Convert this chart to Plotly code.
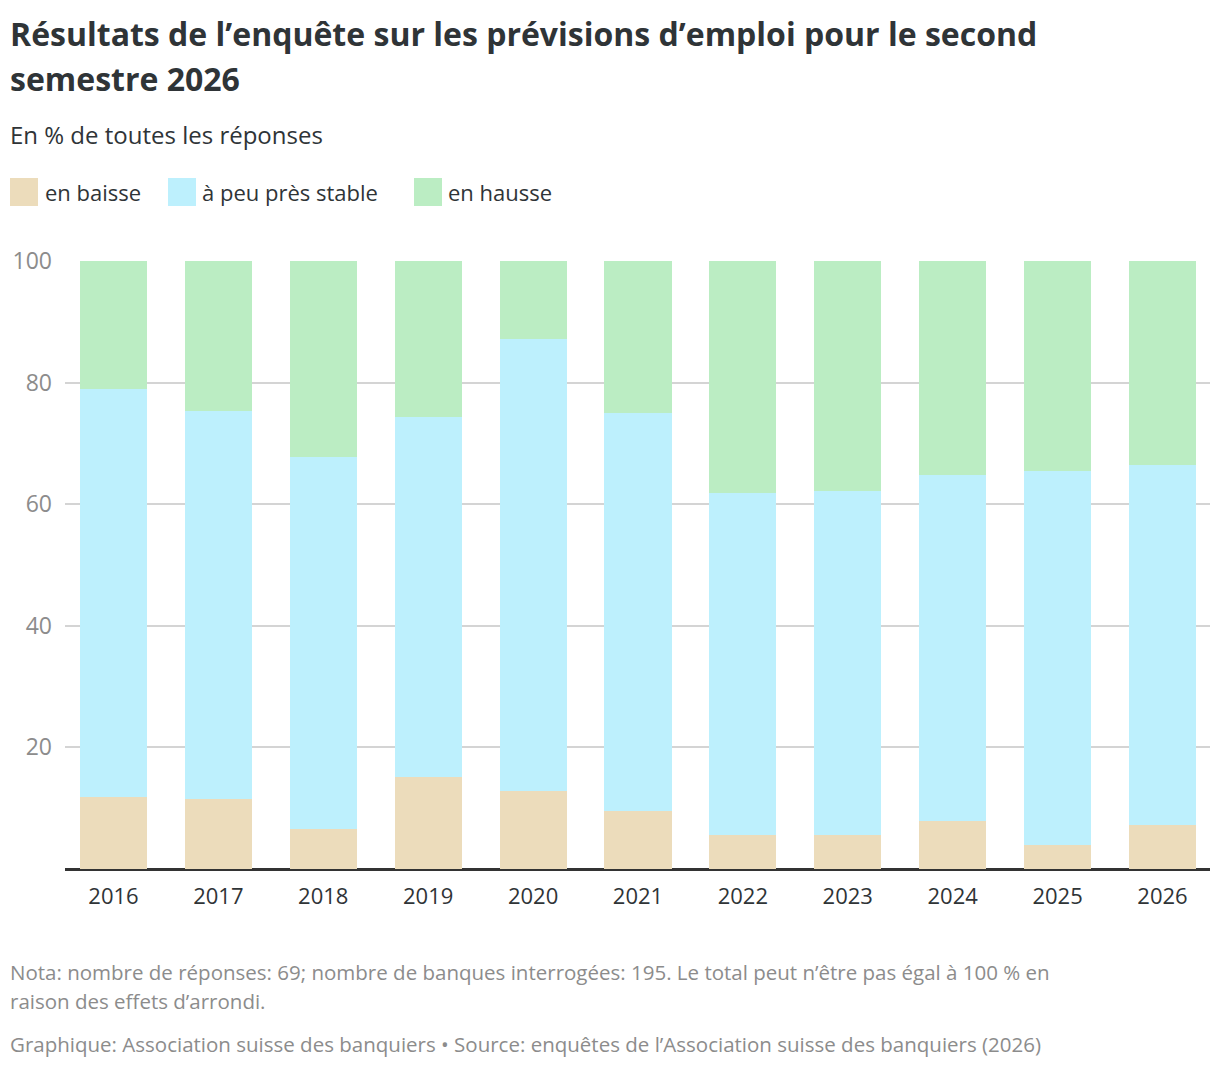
import plotly.graph_objects as go

# Valeurs (en % de toutes les réponses)
annees = ["2016", "2017", "2018", "2019", "2020", "2021", "2022", "2023", "2024", "2025", "2026"]
en_baisse = [11.8, 11.5, 6.6, 15.1, 12.8, 9.5, 5.6, 5.6, 7.9, 3.9, 7.2]
stable = [67.1, 63.8, 61.2, 59.2, 74.4, 65.5, 56.2, 56.6, 56.9, 61.6, 59.2]
en_hausse = [21.1, 24.7, 32.2, 25.7, 12.8, 25.0, 38.2, 37.8, 35.2, 34.5, 33.6]

series = [
    ("en baisse", en_baisse, "#ecdcbb"),
    ("à peu près stable", stable, "#bdf0fd"),
    ("en hausse", en_hausse, "#bbedc3"),
]

FONT = "Open Sans"
DARK = "#2f3437"
GREY = "#8c8c8c"

# la page a une marge de 8 px : on travaille en pixels d'écran puis on convertit
L, R, T, B = 65, 1210, 261, 869
def px(sx):
    return (sx - L) / (R - L)
def py(sy):
    return (B - sy) / (B - T)

fig = go.Figure()
for nom, vals, couleur in series:
    fig.add_trace(go.Bar(x=annees, y=vals, name=nom, marker_color=couleur,
                         marker_line_width=0))

fig.update_layout(
    barmode="stack",
    bargap=0.36,
    width=1204, height=1054,
    margin=dict(l=L - 8, r=1212 - R, t=T - 8, b=1062 - B),
    plot_bgcolor="white", paper_bgcolor="white",
    font=dict(family=FONT, color=DARK, size=21),
    showlegend=False,
)

fig.update_xaxes(showgrid=False, ticks="", tickfont=dict(size=22, color=DARK),
                 showline=False, ticklabelstandoff=12,
                 range=[-0.462, len(annees) - 1 + 0.453])
fig.update_yaxes(range=[0, 100], tickvals=[0, 20, 40, 60, 80, 100],
                 ticktext=["", "20", "40", "60", "80", "100"],
                 gridcolor="#d4d4d4", gridwidth=2,
                 zeroline=True, zerolinecolor="#333333", zerolinewidth=2.5,
                 tickfont=dict(size=23, color=GREY), ticks="", ticklabelstandoff=12)

def texte(t, sx, sy, size, color, bold=False, anchor="middle"):
    if bold:
        t = "<b>" + t + "</b>"
    fig.add_annotation(text=t, xref="paper", yref="paper", x=px(sx), y=py(sy),
                       xanchor="left", yanchor=anchor, align="left",
                       showarrow=False, font=dict(size=size, color=color, family=FONT))

# titre, sous-titre
texte("Résultats de l’enquête sur les prévisions d’emploi pour le second", 8, 33, 32, DARK, bold=True)
texte("semestre 2026", 8, 79, 32, DARK, bold=True)
texte("En % de toutes les réponses", 8, 134, 24, DARK)

# légende
carres = [(10, 45), (168, 202), (414, 448)]
for (nom, _, couleur), (x0, xt) in zip(series, carres):
    fig.add_shape(type="rect", xref="paper", yref="paper",
                  x0=px(x0), x1=px(x0 + 28), y0=py(206), y1=py(178),
                  fillcolor=couleur, line_width=0)
    texte(nom, xt - 2, 192, 22, DARK)

# notes
texte("Nota: nombre de réponses: 69; nombre de banques interrogées: 195. Le total peut n’être pas égal à 100 % en",
      8, 972, 20.5, GREY)
texte("raison des effets d’arrondi.", 8, 1001, 20.5, GREY)
texte("Graphique: Association suisse des banquiers • Source: enquêtes de l’Association suisse des banquiers (2026)",
      8, 1044, 20.5, GREY)

fig.write_html("out.html")
